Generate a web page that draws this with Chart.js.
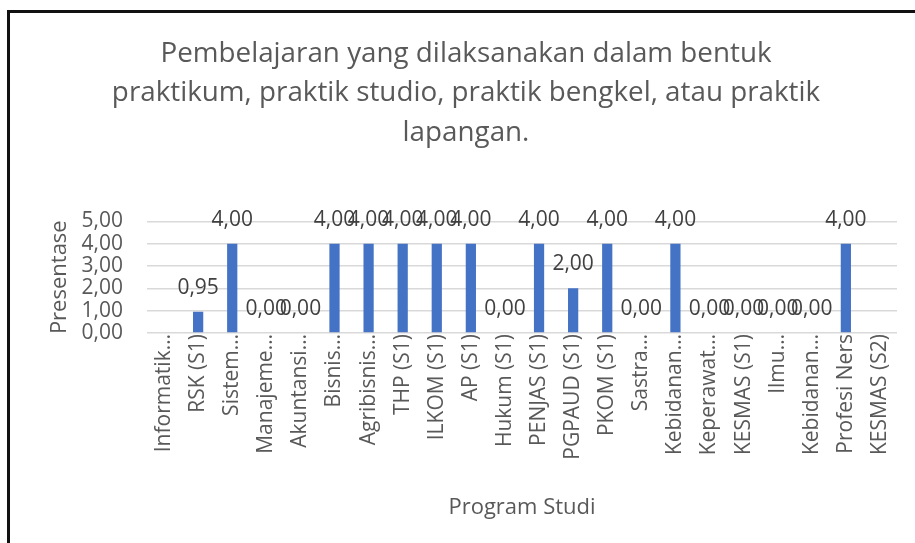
<!DOCTYPE html>
<html>
<head>
<meta charset="utf-8">
<script src="https://cdn.jsdelivr.net/npm/chart.js@4"></script>
<style>
  body { margin: 0; background: #fff; overflow: hidden; }
  #frame { position: absolute; left: 7px; top: 10px; width: 1000px; height: 1000px; border: 3px solid #111; pointer-events: none; }
</style>
</head>
<body>
<canvas id="myChart" width="915" height="543"></canvas>
<div id="frame"></div>
<script>
// category labels as shown (truncated the way the original chart shows them)
const programStudi = [
  'Informatik…', 'RSK (S1)', 'Sistem…', 'Manajeme…', 'Akuntansi…', 'Bisnis…',
  'Agribisnis…', 'THP (S1)', 'ILKOM (S1)', 'AP (S1)', 'Hukum (S1)', 'PENJAS (S1)',
  'PGPAUD (S1)', 'PKOM (S1)', 'Sastra…', 'Kebidanan…', 'Keperawat…', 'KESMAS (S1)',
  'Ilmu…', 'Kebidanan…', 'Profesi Ners', 'KESMAS (S2)'
];
const presentase = [
  null, 0.95, 4, 0, 0, 4,
  4, 4, 4, 4, 0, 4,
  2, 4, 0, 4, 0, 0,
  0, 0, 4, null
];
const yTicks = [0, 1, 2, 3, 4, 5];
const titleLines = [
  'Pembelajaran yang dilaksanakan dalam bentuk',
  'praktikum, praktik studio, praktik bengkel, atau praktik',
  'lapangan.'
];

const fmt = v => v.toFixed(2).replace('.', ',');
const fontFam = "'Open Sans', sans-serif";

// simple value labels above each bar
const barLabels = {
  id: 'barLabels',
  afterDatasetsDraw(chart) {
    const ctx = chart.ctx;
    const meta = chart.getDatasetMeta(0);
    ctx.save();
    ctx.font = '21px ' + fontFam;
    ctx.fillStyle = '#404040';
    ctx.textAlign = 'center';
    ctx.textBaseline = 'middle';
    meta.data.forEach((bar, i) => {
      const v = presentase[i];
      if (v === null) return;
      ctx.fillText(fmt(v), bar.x, bar.y - 24);
    });
    ctx.restore();
  }
};

const ctx = document.getElementById('myChart').getContext('2d');
const myChart = new Chart(ctx, {
  type: 'bar',
  data: {
    labels: programStudi,
    datasets: [{
      label: 'Presentase',
      data: presentase,
      backgroundColor: '#4472C4',
      barPercentage: 1,
      categoryPercentage: 0.3
    }]
  },
  plugins: [barLabels],
  options: {
    responsive: false,
    animation: false,
    layout: { padding: { left: 35, right: 18, top: 0, bottom: 0 } },
    plugins: {
      legend: { display: false },
      tooltip: { enabled: false },
      title: {
        display: true,
        text: titleLines,
        color: '#595959',
        font: { family: fontFam, size: 27.8, weight: 'normal', lineHeight: 1.42 },
        padding: { top: 34, bottom: 69 }
      }
    },
    scales: {
      x: {
        grid: { display: false },
        border: { display: false },
        ticks: {
          autoSkip: false,
          minRotation: 90,
          maxRotation: 90,
          padding: -7,
          color: '#595959',
          font: { family: fontFam, size: 21 }
        },
        title: {
          display: true,
          text: 'Program Studi',
          color: '#595959',
          font: { family: fontFam, size: 22 },
          padding: { top: 0, bottom: 22 }
        },
        afterFit(scale) { scale.height = 210; }
      },
      y: {
        min: 0,
        max: 5,
        afterBuildTicks(scale) { scale.ticks = yTicks.map(v => ({ value: v })); },
        grid: { color: '#d9d9d9', lineWidth: 1.5, drawTicks: false },
        border: { display: false },
        ticks: {
          autoSkip: false,
          padding: 24,
          color: '#595959',
          font: { family: fontFam, size: 21 },
          callback: v => fmt(v)
        },
        title: {
          display: true,
          text: 'Presentase',
          color: '#595959',
          font: { family: fontFam, size: 22 },
          padding: { top: 12, bottom: 0 }
        },
        afterFit(scale) { scale.width = 112; }
      }
    }
  }
});
</script>
</body>
</html>
